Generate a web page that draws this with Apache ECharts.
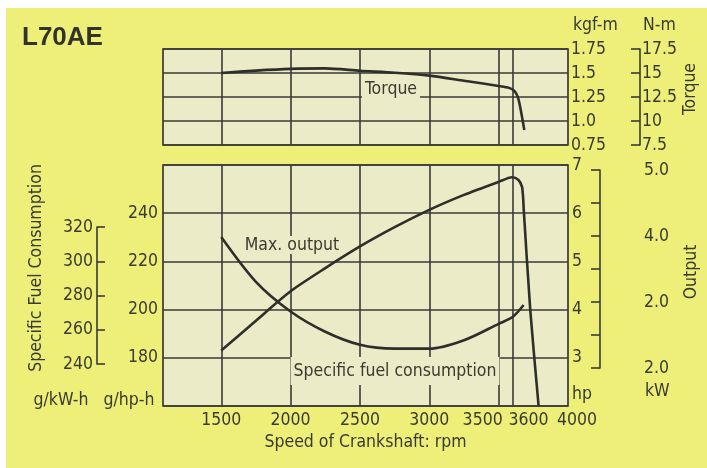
<!DOCTYPE html>
<html><head><meta charset="utf-8">
<script src="https://cdn.jsdelivr.net/npm/echarts@6.0.0/dist/echarts.min.js"></script>
<style>
html,body{margin:0;padding:0;background:#fff;}
#bg{position:absolute;left:6px;top:8px;width:701px;height:460px;background:#edef79;}
#chart{position:absolute;left:0;top:0;width:707px;height:468px;}
</style></head><body>
<div id="bg"></div><div id="chart"></div>
<script>
// ---- data ----
const rpmLabels = [1500, 2000, 2500, 3000, 3500, 3600, 4000];
const rpmGridLines = [1500, 2000, 2500, 3000, 3500, 3600];
const torqueKgfm = [[1500,1.50],[1750,1.525],[2000,1.543],[2250,1.548],[2500,1.523],[2750,1.503],[3000,1.473],[3250,1.42],[3500,1.365],[3575,1.345],[3615,1.31],[3640,1.24],[3660,1.11],[3685,0.906]];
const outputHp = [[1500,3.15],[1750,3.77],[2000,4.38],[2250,4.86],[2500,5.31],[2750,5.71],[3000,6.07],[3250,6.38],[3500,6.65],[3596,6.745],[3643,6.69],[3668,6.55],[3676,6.34],[3681,6.07],[3728,3.99],[3788,2.0]];
const sfcGHph = [[1500,230.1],[1750,211.5],[2000,199.2],[2250,190.8],[2500,185.4],[2750,183.8],[3000,183.8],[3250,187.3],[3500,194.1],[3600,196.9],[3680,201.9]];
const kgfmTickText = ['0.75','1.0','1.25','1.5','1.75'];
const nmTickText = ['7.5','10','12.5','15','17.5'];
const hpTickText = ['', '3', '4', '5', '6', '7'];
const gHphTickText = ['', '180', '200', '220', '240', ''];
const gKwhTickText = ['240', '260', '280', '300', '320'];
const kwTickText = ['2.0', '', '2.0', '', '4.0', '', '5.0'];

// ---- style ----
const FONT = "'DejaVu Sans Condensed', 'Liberation Sans', sans-serif";
const TXT = '#3a3a30';
const LINE = '#3a3a36';
const PLOT = '#ebebc8';
const FS = 17.5;
const lbl = {color: TXT, fontFamily: FONT, fontSize: FS};

const chart = echarts.init(document.getElementById('chart'), null, {renderer: 'canvas'});

const gridLineMark = (vals) => ({
  silent: true, symbol: 'none', label: {show: false},
  lineStyle: {color: LINE, width: 1.6, type: 'solid'},
  emphasis: {disabled: true},
  data: vals.map(v => ({xAxis: v}))
});

const option = {
  animation: false,
  backgroundColor: 'transparent',
  textStyle: {fontFamily: FONT},
  grid: [
    {left: 163, top: 49, width: 405, height: 96, show: true, backgroundColor: PLOT, borderColor: LINE, borderWidth: 1.7, outerBoundsMode: 'none', containLabel: false},
    {left: 163, top: 165, width: 405, height: 241, show: true, backgroundColor: PLOT, borderColor: LINE, borderWidth: 1.7, outerBoundsMode: 'none', containLabel: false},
    {left: 97, top: 227, width: 2, height: 137, outerBoundsMode: 'none', containLabel: false},
    {left: 600, top: 170, width: 40, height: 198, outerBoundsMode: 'none', containLabel: false}
  ],
  xAxis: [
    {gridIndex: 0, type: 'value', min: 1080, max: 4000, axisLine: {show: false}, axisTick: {show: false}, axisLabel: {show: false}, splitLine: {show: false}},
    {gridIndex: 1, type: 'value', min: 1080, max: 4000, axisLine: {show: false}, axisTick: {show: false}, splitLine: {show: false},
      axisLabel: {customValues: rpmLabels, hideOverlap: false, margin: 5, color: TXT, fontFamily: FONT, fontSize: FS,
        formatter: function (v) {
          if (v === 3500) return '{l|' + v + '}';
          if (v === 3600) return '{r|' + v + '}';
          if (v === 4000) return '{r2|' + v + '}';
          return String(v);
        },
        rich: {
          l: {padding: [0, 32, 0, 0], color: TXT, fontFamily: FONT, fontSize: FS},
          r: {padding: [0, 0, 0, 32], color: TXT, fontFamily: FONT, fontSize: FS},
          r2: {padding: [0, 0, 0, 18], color: TXT, fontFamily: FONT, fontSize: FS}
        }},
      name: 'Speed of Crankshaft: rpm', nameLocation: 'middle', nameGap: 25, nameTextStyle: lbl},
    {gridIndex: 2, type: 'value', show: false},
    {gridIndex: 3, type: 'value', show: false}
  ],
  yAxis: [
    {gridIndex: 0, type: 'value', position: 'right', min: 0.75, max: 1.75, interval: 0.25,
      axisLine: {show: false}, axisTick: {show: false},
      splitLine: {show: true, lineStyle: {color: LINE, width: 1.6}},
      axisLabel: {margin: 3, color: TXT, fontFamily: FONT, fontSize: FS, formatter: (v, i) => kgfmTickText[i]},
      name: 'kgf-m', nameLocation: 'end', nameGap: 15,
      nameTextStyle: {color: TXT, fontFamily: FONT, fontSize: FS, align: 'left', padding: [0, 0, 0, 5]}},
    {gridIndex: 0, type: 'value', position: 'right', offset: 72, min: 7.5, max: 17.5, interval: 2.5,
      axisLine: {show: true, lineStyle: {color: LINE, width: 1.6}},
      axisTick: {show: true, inside: true, length: 9, lineStyle: {color: LINE, width: 1.6}},
      splitLine: {show: false},
      axisLabel: {margin: 2, color: TXT, fontFamily: FONT, fontSize: FS, formatter: (v, i) => nmTickText[i]},
      name: 'N-m', nameLocation: 'end', nameGap: 15,
      nameTextStyle: {color: TXT, fontFamily: FONT, fontSize: FS, align: 'left', padding: [0, 0, 0, 3]}},
    {gridIndex: 1, type: 'value', position: 'left', min: 160, max: 260, interval: 20,
      axisLine: {show: false}, axisTick: {show: false},
      splitLine: {show: true, lineStyle: {color: LINE, width: 1.6}},
      axisLabel: {margin: 5, color: TXT, fontFamily: FONT, fontSize: FS, formatter: (v, i) => gHphTickText[i]}},
    {gridIndex: 1, type: 'value', position: 'right', min: 2, max: 7, interval: 1,
      axisLine: {show: false}, axisTick: {show: false}, splitLine: {show: false},
      axisLabel: {margin: 4, color: TXT, fontFamily: FONT, fontSize: FS, formatter: (v, i) => hpTickText[i]}},
    {gridIndex: 2, type: 'value', position: 'left', min: 240, max: 320, interval: 20,
      axisLine: {show: true, lineStyle: {color: LINE, width: 1.6}},
      axisTick: {show: true, inside: true, length: 8, lineStyle: {color: LINE, width: 1.6}},
      splitLine: {show: false},
      axisLabel: {margin: 4, color: TXT, fontFamily: FONT, fontSize: FS, formatter: (v, i) => gKwhTickText[i]}},
    {gridIndex: 3, type: 'value', position: 'right', min: 0, max: 6, interval: 1,
      axisLine: {show: true, lineStyle: {color: LINE, width: 1.6}},
      axisTick: {show: true, inside: true, length: 9, lineStyle: {color: LINE, width: 1.6}},
      splitLine: {show: false},
      axisLabel: {margin: 4, color: TXT, fontFamily: FONT, fontSize: FS, formatter: (v, i) => kwTickText[i]}}
  ],
  series: [
    {type: 'line', name: 'Torque', xAxisIndex: 0, yAxisIndex: 0, data: torqueKgfm, showSymbol: false, smooth: 0.25,
      lineStyle: {color: '#2e2e2a', width: 2.6}, z: 5, markLine: gridLineMark(rpmGridLines)},
    {type: 'line', name: 'Max. output', xAxisIndex: 1, yAxisIndex: 3, data: outputHp, showSymbol: false, smooth: 0.25,
      lineStyle: {color: '#2e2e2a', width: 2.6}, z: 5, markLine: gridLineMark(rpmGridLines)},
    {type: 'line', name: 'Specific fuel consumption', xAxisIndex: 1, yAxisIndex: 2, data: sfcGHph, showSymbol: false, smooth: 0.3,
      lineStyle: {color: '#2e2e2a', width: 2.6}, z: 5}
  ],
  graphic: [
    {type: 'text', left: 22, top: 25, z: 100, style: {text: 'L70AE', fill: '#33332b', font: "bold 26px 'Liberation Sans', Arial, sans-serif"}},
    {type: 'text', x: 391, y: 89, z: 100, style: {text: 'Torque', fill: TXT, fontFamily: FONT, fontSize: FS, align: 'center', verticalAlign: 'middle', backgroundColor: PLOT, padding: [0, 3, 0, 3]}},
    {type: 'text', x: 292, y: 245, z: 100, style: {text: 'Max. output', fill: TXT, fontFamily: FONT, fontSize: FS, align: 'center', verticalAlign: 'middle', backgroundColor: PLOT, padding: [0, 3, 0, 3]}},
    {type: 'text', x: 395, y: 371, z: 100, style: {text: 'Specific fuel consumption', fill: TXT, fontFamily: FONT, fontSize: FS, align: 'center', verticalAlign: 'middle', backgroundColor: PLOT, padding: [4, 3, 6, 3]}},
    {type: 'text', x: 690, y: 89, rotation: Math.PI / 2, z: 100, style: {text: 'Torque', fill: TXT, fontFamily: FONT, fontSize: FS, align: 'center', verticalAlign: 'middle'}},
    {type: 'text', x: 691, y: 272, rotation: Math.PI / 2, z: 100, style: {text: 'Output', fill: TXT, fontFamily: FONT, fontSize: FS, align: 'center', verticalAlign: 'middle'}},
    {type: 'text', x: 36, y: 268, rotation: Math.PI / 2, z: 100, style: {text: 'Specific Fuel Consumption', fill: TXT, fontFamily: FONT, fontSize: FS, align: 'center', verticalAlign: 'middle'}},
    {type: 'text', x: 61, y: 400, z: 100, style: {text: 'g/kW-h', fill: TXT, fontFamily: FONT, fontSize: FS, align: 'center', verticalAlign: 'middle'}},
    {type: 'text', x: 129, y: 400, z: 100, style: {text: 'g/hp-h', fill: TXT, fontFamily: FONT, fontSize: FS, align: 'center', verticalAlign: 'middle'}},
    {type: 'text', x: 572, y: 394, z: 100, style: {text: 'hp', fill: TXT, fontFamily: FONT, fontSize: FS, align: 'left', verticalAlign: 'middle'}},
    {type: 'text', x: 645, y: 391, z: 100, style: {text: 'kW', fill: TXT, fontFamily: FONT, fontSize: FS, align: 'left', verticalAlign: 'middle'}}
  ]
};
chart.setOption(option);
</script>
</body></html>
